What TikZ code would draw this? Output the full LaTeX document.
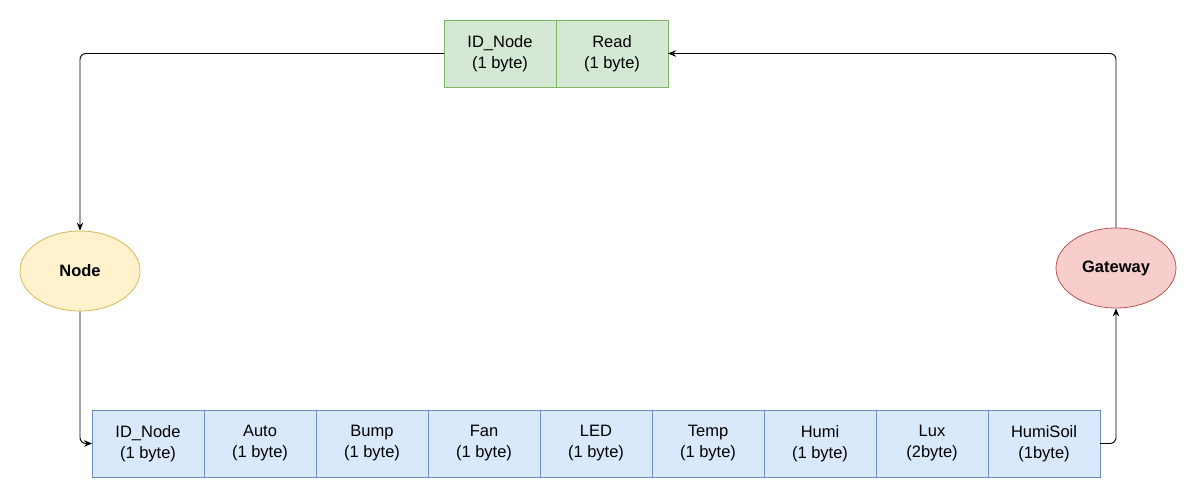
\documentclass[tikz,border=0pt]{standalone}
\usepackage{fontspec}
\setmainfont{Liberation Sans}
\usetikzlibrary{arrows.meta,positioning,shapes.geometric}
\definecolor{reqfill}{HTML}{D5E8D4}
\definecolor{reqline}{HTML}{82B366}
\definecolor{datfill}{HTML}{DAE8FC}
\definecolor{datline}{HTML}{6C8EBF}
\definecolor{nodefill}{HTML}{FFF2CC}
\definecolor{nodeline}{HTML}{D6B656}
\definecolor{gwfill}{HTML}{F8CECC}
\definecolor{gwline}{HTML}{B85450}
\tikzset{
  >={Stealth[length=8pt,width=6.5pt]},
  cell/.style={
    draw, rectangle, align=center, inner sep=0pt, outer sep=0pt,
    font=\fontsize{16.5}{21}\selectfont, line width=0.8pt,
    minimum width=112pt, minimum height=67pt
  },
  reqcell/.style={cell, fill=reqfill, draw=reqline},
  datcell/.style={cell, fill=datfill, draw=datline},
  station/.style={
    draw, ellipse, align=center, inner sep=0pt, line width=0.8pt,
    font=\fontsize{16.5}{20}\selectfont\bfseries,
    minimum width=120pt, minimum height=80pt
  },
  link/.style={->, line width=0.9pt, rounded corners=6pt},
}
\begin{document}
\begin{tikzpicture}[x=1pt,y=-1pt]
  \useasboundingbox (0,0) rectangle (1197,498);
  % request frame
  \node[reqcell] (rqid) at (500,53.5) {ID\_Node\\(1 byte)};
  \node[reqcell, right=0pt of rqid] (rqread) {Read\\(1 byte)};

  % stations
  \node[station, fill=nodefill, draw=nodeline] (node) at (80,271) {Node};
  \node[station, fill=gwfill, draw=gwline] (gw) at (1116,268) {Gateway};

  % data frame
  \node[datcell] (dpid) at (148,443.5) {ID\_Node\\(1 byte)};
  \node[datcell, right=0pt of dpid] (dpauto) {Auto\\(1 byte)};
  \node[datcell, right=0pt of dpauto] (dpbump) {Bump\\(1 byte)};
  \node[datcell, right=0pt of dpbump] (dpfan) {Fan\\(1 byte)};
  \node[datcell, right=0pt of dpfan] (dpled) {LED\\(1 byte)};
  \node[datcell, right=0pt of dpled] (dptemp) {Temp\\(1 byte)};
  \node[datcell, right=0pt of dptemp] (dphumi) {Humi\\(1 byte)};
  \node[datcell, right=0pt of dphumi] (dplux) {Lux\\(2byte)};
  \node[datcell, right=0pt of dplux] (dpsoil) {HumiSoil\\(1byte)};

  % connectors
  \draw[link] (rqid.west) -| (node.north);
  \draw[link] (node.south) |- (dpid.west);
  \draw[link] (dpsoil.east) -| (gw.south);
  \draw[link] (gw.north) |- (rqread.east);
\end{tikzpicture}
\end{document}
